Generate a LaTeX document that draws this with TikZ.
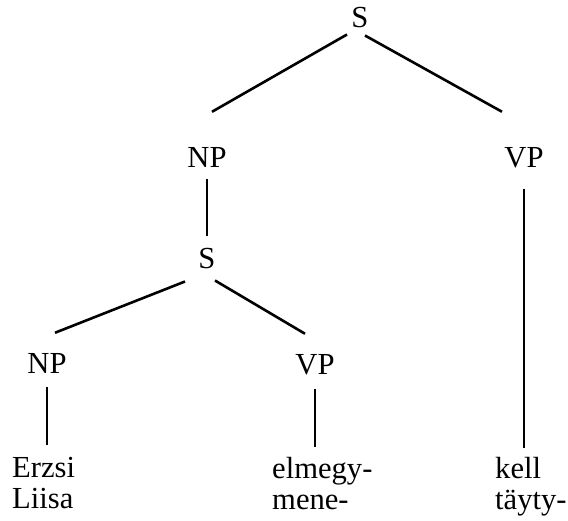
\documentclass[tikz,border=0pt]{standalone}
\usepackage{fontspec}
\setmainfont{Liberation Serif}
\tikzset{
	cat/.style={inner sep=0pt, anchor=base, font=\fontsize{30.6}{31}\selectfont},
	leaf/.style={inner sep=0pt, anchor=north west, align=left, font=\fontsize{30.6}{31}\selectfont},
	branch/.style={line width=2.6pt}
}
\begin{document}
\begin{tikzpicture}[x=1pt,y=-1pt]
	\useasboundingbox (0,0) rectangle (568,520);
	% Categories
	\node[cat] (s0)  at (360,27)  {S};
	\node[cat] (np0) at (207,167) {NP};
	\node[cat] (vp0) at (524,167) {VP};
	\node[cat] (s1)  at (207,268) {S};
	\node[cat] (np1) at (47,373)  {NP};
	\node[cat] (vp1) at (315,374) {VP};
	% Words
	\node[leaf] (w1) at (12,457)  {Erzsi\\Liisa};
	\node[leaf] (w2) at (272,457) {elmegy-\\mene-};
	\node[leaf] (w3) at (495,457) {kell\\täyty-};
	% Branches
	\draw[branch] ([xshift=-13pt,yshift=-7pt]s0.south) -- ([xshift=5pt,yshift=35pt]np0.north);
	\draw[branch] ([xshift=5pt,yshift=-8pt]s0.south) -- ([xshift=-22pt,yshift=35pt]vp0.north);
	\draw[branch, shorten <=12pt, shorten >=12pt] (np0.south) -- (np0.south |- s1.north);
	\draw[branch] ([xshift=-22pt,yshift=-13pt]s1.south) -- ([xshift=8pt,yshift=20pt]np1.north);
	\draw[branch] ([xshift=8pt,yshift=-12pt]s1.south) -- ([xshift=-10pt,yshift=20pt]vp1.north);
	\draw[branch, shorten <=14pt, shorten >=12pt] (np1.south) -- (np1.south |- w1.north);
	\draw[branch, shorten <=14pt, shorten >=10pt] (vp1.south) -- (vp1.south |- w2.north);
	\draw[branch, shorten <=21pt, shorten >=9pt] (vp0.south) -- (vp0.south |- w3.north);
\end{tikzpicture}
\end{document}
